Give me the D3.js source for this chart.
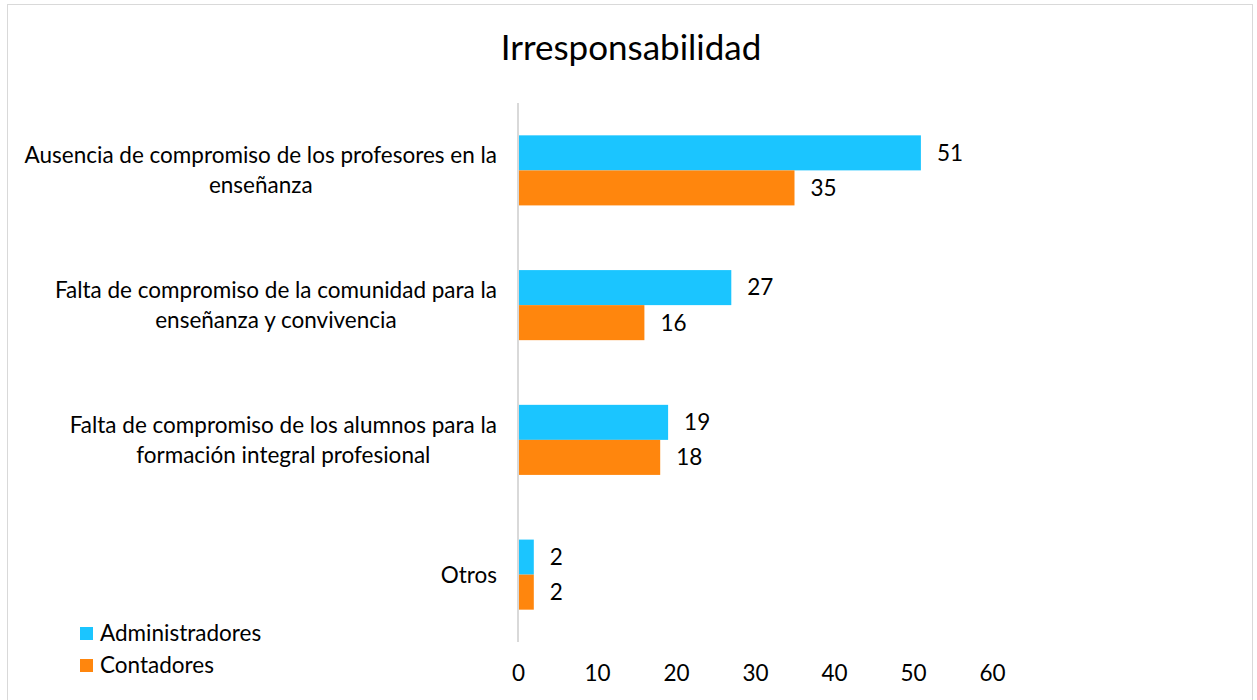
<!DOCTYPE html>
<html><head><meta charset="utf-8">
<script src="https://cdn.jsdelivr.net/npm/d3@7"></script>
<style>body{margin:0;background:#fff}svg{display:block;font-family:Lato,"Open Sans",sans-serif}</style>
</head><body><svg id="c" width="1257" height="700"></svg>
<script>
const categories = [
  ["Ausencia de compromiso de los profesores en la","enseñanza"],
  ["Falta de compromiso de la comunidad para la","enseñanza y convivencia"],
  ["Falta de compromiso de los alumnos para la","formación integral profesional"],
  ["Otros"]
];
const seriesNames = ["Administradores","Contadores"];
const administradores = [51,27,19,2];
const contadores = [35,16,18,2];
const tickValues = [0,10,20,30,40,50,60];
const colors = ["#1BC5FF","#FF860D"];
const FS = 22.5;

const svg = d3.select("#c");
svg.append("rect").attr("x",7.5).attr("y",4.5).attr("width",1245).attr("height",700).attr("fill","#fff").attr("stroke","#d9d9d9");

const x = d3.scaleLinear().domain([0,60]).range([518,992]);
const y = d3.scaleBand().domain(d3.range(categories.length)).range([103,642]).paddingInner(0.48).paddingOuter(0.24);

svg.append("text").attr("x",631).attr("y",60).attr("text-anchor","middle").attr("font-size",35).attr("fill","#000").text("Irresponsabilidad");

const xAxis = d3.axisBottom(x).tickValues(tickValues).tickSize(0).tickPadding(0);
const gx = svg.append("g").attr("transform","translate(0,673)").call(xAxis);
gx.select(".domain").remove();
gx.selectAll("text").attr("font-size",FS).attr("font-family","Lato").attr("fill","#000").attr("dy","0.35em");

svg.append("line").attr("x1",x(0)).attr("x2",x(0)).attr("y1",103).attr("y2",642).attr("stroke","#d9d9d9").attr("stroke-width",2);

const series = [administradores, contadores];
series.forEach((vals,si)=>{
  const g = svg.append("g");
  vals.forEach((v,i)=>{
    const bh = y.bandwidth()/2;
    const y0 = y(i)+si*bh;
    g.append("rect").attr("x",x(0)+1).attr("y",y0).attr("width",x(v)-x(0)-1).attr("height",bh).attr("fill",colors[si]);
    g.append("text").attr("x",x(v)+16).attr("y",y0+bh/2).attr("dy","0.35em").attr("font-size",FS).attr("fill","#000").text(v);
  });
});

categories.forEach((lines,i)=>{
  const cy = y(i)+y.bandwidth()/2;
  const lh = 30;
  const t = svg.append("text").attr("font-size",FS).attr("fill","#000").attr("text-anchor","middle");
  const tspans = lines.map((l,j)=>t.append("tspan").attr("y",cy+(j-(lines.length-1)/2)*lh).attr("dy","0.35em").text(l));
  const w = d3.max(tspans,s=>s.node().getComputedTextLength());
  tspans.forEach(s=>s.attr("x",497-w/2));
});

seriesNames.forEach((n,i)=>{
  const ly = 633+i*32;
  svg.append("rect").attr("x",80).attr("y",ly-6).attr("width",13).attr("height",13).attr("fill",colors[i]);
  svg.append("text").attr("x",100).attr("y",ly).attr("dy","0.35em").attr("font-size",FS).attr("fill","#000").text(n);
});
</script></body></html>
